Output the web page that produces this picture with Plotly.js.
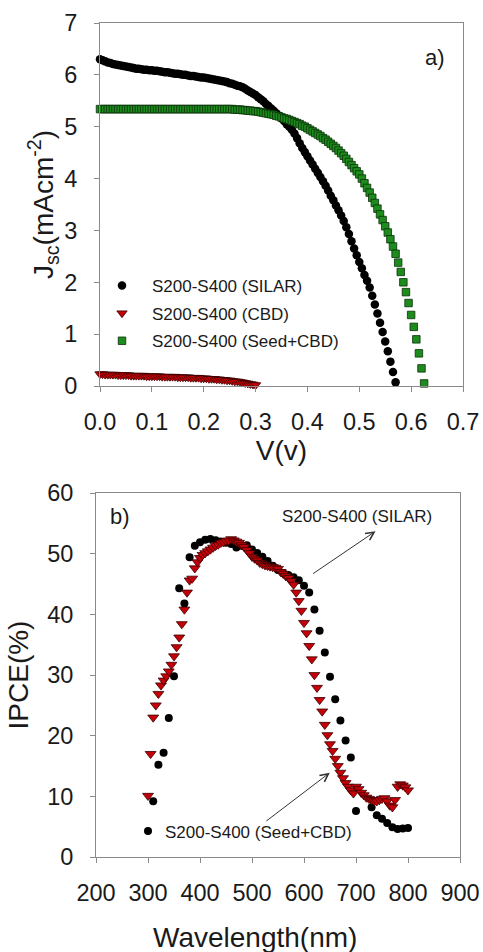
<!DOCTYPE html>
<html><head><meta charset="utf-8">
<script src="https://cdn.plot.ly/plotly-3.0.1.min.js"></script>
<style>html,body{margin:0;padding:0;background:#fff}#chart{width:483px;height:952px}</style>
</head><body><div id="chart"></div>
<script>
// ---------- Panel a) J-V data ----------
var voltage = [0,0.005,0.01,0.015,0.02,0.025,0.03,0.035,0.04,0.045,
0.05,0.055,0.06,0.065,0.07,0.075,0.08,0.085,0.09,0.095,
0.1,0.105,0.11,0.115,0.12,0.125,0.13,0.135,0.14,0.145,
0.15,0.155,0.16,0.165,0.17,0.175,0.18,0.185,0.19,0.195,
0.2,0.205,0.21,0.215,0.22,0.225,0.23,0.235,0.24,0.245,
0.25,0.255,0.26,0.265,0.27,0.275,0.28,0.285,0.29,0.295,
0.3,0.305,0.31,0.315,0.32,0.325,0.33,0.335,0.34,0.345,
0.35,0.355,0.36,0.365,0.37,0.375,0.38,0.385,0.39,0.395,
0.4,0.405,0.41,0.415,0.42,0.425,0.43,0.435,0.44,0.445,
0.45,0.455,0.46,0.465,0.47,0.475,0.48,0.485,0.49,0.495,
0.5,0.505,0.51,0.515,0.52,0.525,0.53,0.535,0.54,0.545,
0.55,0.555,0.56,0.565,0.57,0.575,0.58,0.585,0.59,0.595,
0.6,0.605,0.61,0.615,0.62,0.625];

var jscSilar = [6.30,6.28,6.26,6.24,6.23,6.21,6.20,6.19,6.18,6.17,
6.16,6.15,6.14,6.13,6.12,6.12,6.11,6.10,6.10,6.09,
6.09,6.08,6.08,6.07,6.06,6.05,6.05,6.04,6.03,6.02,
6.02,6.01,6.00,6.00,5.99,5.98,5.98,5.97,5.96,5.95,
5.95,5.94,5.93,5.92,5.91,5.90,5.89,5.88,5.87,5.86,
5.84,5.83,5.81,5.79,5.78,5.76,5.73,5.70,5.67,5.64,
5.61,5.57,5.53,5.49,5.44,5.40,5.35,5.31,5.26,5.21,
5.16,5.11,5.05,5.00,4.94,4.87,4.78,4.68,4.59,4.51,
4.43,4.35,4.27,4.19,4.11,4.03,3.95,3.86,3.77,3.67,
3.58,3.48,3.39,3.29,3.18,3.06,2.93,2.79,2.65,2.52,
2.39,2.27,2.14,2.03,1.90,1.74,1.57,1.40,1.22,1.04,
0.86,0.67,0.47,0.27,0.07];

var jscCbd = [0.23,0.23,0.22,0.22,0.22,0.22,0.22,0.21,0.21,0.21,
0.21,0.21,0.20,0.20,0.20,0.20,0.20,0.20,0.19,0.19,
0.19,0.19,0.19,0.19,0.18,0.18,0.18,0.18,0.18,0.18,
0.17,0.17,0.17,0.17,0.17,0.16,0.16,0.16,0.16,0.15,
0.15,0.15,0.14,0.14,0.14,0.13,0.13,0.12,0.12,0.11,
0.11,0.10,0.09,0.09,0.08,0.07,0.06,0.05,0.04,0.03,
0.02];

var jscSeedCbd = [5.34,5.34,5.34,5.34,5.34,5.34,5.34,5.34,5.34,5.34,
5.34,5.34,5.34,5.34,5.34,5.34,5.34,5.34,5.34,5.34,
5.34,5.34,5.34,5.34,5.34,5.34,5.34,5.34,5.34,5.34,
5.34,5.34,5.34,5.34,5.34,5.34,5.34,5.34,5.34,5.34,
5.34,5.34,5.34,5.34,5.34,5.34,5.34,5.34,5.34,5.34,
5.34,5.34,5.33,5.33,5.33,5.32,5.32,5.31,5.31,5.30,
5.30,5.29,5.28,5.27,5.26,5.25,5.24,5.23,5.21,5.20,
5.18,5.16,5.15,5.13,5.11,5.09,5.07,5.05,5.02,5.00,
4.97,4.94,4.91,4.88,4.85,4.82,4.78,4.75,4.71,4.67,
4.63,4.59,4.54,4.49,4.44,4.38,4.32,4.26,4.20,4.14,
4.08,4.00,3.91,3.82,3.73,3.63,3.53,3.42,3.31,3.20,
3.08,2.96,2.83,2.69,2.55,2.38,2.20,2.00,1.81,1.60,
1.37,1.14,0.90,0.63,0.34,0.05];

var seriesNames = ["S200-S400 (SILAR)", "S200-S400 (CBD)", "S200-S400 (Seed+CBD)"];

// ---------- Panel b) IPCE data ----------
var wlSilar = [300,310,320,330,340,350,360,370,380,390,
400,410,420,430,440,450,460,470,480,490,
500,510,520,530,540,550,560,570,580,590,
600,610,620,630,640,650,660,670,680,690,
700,730,740,750,760,770,780,790,800];
var ipceSilar = [4.3,9.2,15.2,17.2,22.9,29.8,44.3,41.8,49.4,51.3,
51.9,52.3,52.4,52.2,52.0,51.8,51.6,51.0,51.3,51.4,
50.7,50.1,49.5,48.8,48.0,47.3,46.8,46.5,46.1,45.6,
44.7,43.6,40.8,37.3,33.7,29.7,26.0,22.5,19.2,16.4,
7.6,8.2,6.9,6.3,5.6,4.9,4.6,4.7,4.8];

var wlSeedCbd = [300,305,310,315,320,325,330,335,340,345,
350,355,360,365,370,375,380,385,390,395,
400,405,410,415,420,425,430,435,440,445,
450,455,460,465,470,475,480,485,490,495,
500,505,510,515,520,525,530,535,540,545,
550,555,560,565,570,575,580,585,590,595,
600,605,610,615,620,625,630,635,640,645,
650,655,660,665,670,675,680,685,690,695,
700,705,710,715,720,725,730,735,740,745,
750,755,760,765,770,775,780,785,790,795,
800];
var ipceSeedCbd = [10.1,17.0,23.0,25.0,26.9,28.3,29.1,29.8,30.6,31.7,
33.1,34.6,36.2,38.4,40.8,43.6,45.6,45.9,47.6,48.6,
49.3,49.8,50.1,50.4,50.7,51.0,51.3,51.5,51.8,51.9,
52.1,52.2,52.4,52.2,52.0,51.8,51.4,51.1,50.6,50.1,
49.5,49.2,48.9,48.5,48.3,48.1,48.0,47.9,47.8,47.7,
47.5,47.0,46.7,46.3,46.0,45.5,44.9,43.6,42.2,40.6,
38.6,36.9,34.8,32.6,30.0,27.9,25.9,24.0,21.8,20.1,
18.6,17.5,16.2,15.0,13.9,13.0,12.2,11.6,11.0,10.5,
11.6,11.2,10.6,10.2,9.8,9.6,9.4,9.2,9.2,9.4,
9.6,9.7,9.2,8.5,8.2,9.4,11.6,12.0,11.8,11.5,
11.0];

var W = 483, H = 952;
var FONT = "Liberation Sans, Arial, sans-serif";
var TXT = "#1a1a1a";
var AX = "#8a8a8a";

var traces = [
  {x: voltage.slice(0, jscSilar.length), y: jscSilar, name: seriesNames[0], type: "scatter", mode: "markers",
   xaxis: "x", yaxis: "y", cliponaxis: false, legendgroup: "g1",
   marker: {symbol: "circle", size: 8.5, color: "#000000"}},
  {x: voltage.slice(0, jscCbd.length), y: jscCbd, name: seriesNames[1], type: "scatter", mode: "markers",
   xaxis: "x", yaxis: "y", cliponaxis: false, legendgroup: "g2",
   marker: {symbol: "triangle-down", size: 9, color: "#c40008", line: {color: "#3a0000", width: 0.8}}},
  {x: voltage.slice(0, jscSeedCbd.length), y: jscSeedCbd, name: seriesNames[2], type: "scatter", mode: "markers",
   xaxis: "x", yaxis: "y", cliponaxis: false, legendgroup: "g3",
   marker: {symbol: "square", size: 7.5, color: "#1d8c1d", line: {color: "#0a300a", width: 0.8}}},
  {x: wlSilar, y: ipceSilar, name: seriesNames[0], type: "scatter", mode: "markers",
   xaxis: "x2", yaxis: "y2", showlegend: false, cliponaxis: false,
   marker: {symbol: "circle", size: 8, color: "#000000"}},
  {x: wlSeedCbd, y: ipceSeedCbd, name: seriesNames[2], type: "scatter", mode: "markers",
   xaxis: "x2", yaxis: "y2", showlegend: false, cliponaxis: false,
   marker: {symbol: "triangle-down", size: 9.5, color: "#c40008", line: {color: "#3a0000", width: 0.8}}}
];

function axisBase() {
  return {showline: true, mirror: true, linecolor: AX, linewidth: 1,
    ticks: "outside", ticklen: 5, tickwidth: 1, tickcolor: AX,
    showgrid: false, zeroline: false, fixedrange: true,
    tickfont: {family: FONT, size: 23.5, color: TXT}};
}

var xa = Object.assign(axisBase(), {domain: [100/W, 463/W], range: [0, 0.7], tick0: 0, dtick: 0.1,
  tickformat: ".1f", anchor: "y", ticklabelstandoff: 10,
  title: {text: "V(v)", font: {family: FONT, size: 28, color: TXT}, standoff: 6}});
var ya = Object.assign(axisBase(), {domain: [(H-386)/H, (H-23)/H], range: [0, 7], tick0: 0, dtick: 1,
  anchor: "x", ticklabelstandoff: 12,
  title: {text: "J<sub>sc</sub>(mAcm<sup>-2</sup>)", font: {family: FONT, size: 28, color: TXT}, standoff: 2}});
var xa2 = Object.assign(axisBase(), {domain: [96/W, 460/W], range: [200, 900], tick0: 200, dtick: 100,
  anchor: "y2", ticklabelstandoff: 10});
var ya2 = Object.assign(axisBase(), {domain: [(H-857)/H, (H-493)/H], range: [0, 60], tick0: 0, dtick: 10,
  anchor: "x2", ticklabelstandoff: 12,
  title: {text: "IPCE(%)", font: {family: FONT, size: 28, color: TXT}, standoff: 10}});

var annFont = {family: FONT, size: 17, color: TXT};
var arrowFont = {family: FONT, size: 4, color: "rgba(0,0,0,0)"};
var layout = {
  width: W, height: H,
  margin: {l: 0, r: 0, t: 0, b: 0},
  paper_bgcolor: "#ffffff", plot_bgcolor: "#ffffff",
  font: {family: FONT, color: TXT},
  xaxis: xa, yaxis: ya, xaxis2: xa2, yaxis2: ya2,
  showlegend: true,
  legend: {x: 92/W, xanchor: "left", y: (H-268)/H, yanchor: "top",
    font: {family: FONT, size: 17, color: TXT}, bgcolor: "rgba(0,0,0,0)",
    itemwidth: 50, tracegroupgap: 2.5},
  annotations: [
    {xref: "x", yref: "y", x: 0.646, y: 6.34, text: "a)", showarrow: false,
     font: {family: FONT, size: 22, color: TXT}},
    {xref: "x2", yref: "y2", x: 246, y: 56.2, text: "b)", showarrow: false,
     font: {family: FONT, size: 22, color: TXT}},
    {xref: "x2", yref: "y2", x: 701, y: 56.2, text: seriesNames[0], showarrow: false, font: annFont},
    {xref: "x2", yref: "y2", x: 737.6, y: 53.7, axref: "x2", ayref: "y2", ax: 615.6, ay: 46.6,
     text: ".", font: arrowFont, borderpad: 0,
     showarrow: true, arrowhead: 5, arrowsize: 1.6, arrowwidth: 1, arrowcolor: "#333333", standoff: 0},
    {xref: "x2", yref: "y2", x: 513, y: 3.96, text: seriesNames[2], showarrow: false, font: annFont},
    {xref: "x2", yref: "y2", x: 649.6, y: 13.9, axref: "x2", ayref: "y2", ax: 525.6, ay: 5.8,
     text: ".", font: arrowFont, borderpad: 0,
     showarrow: true, arrowhead: 5, arrowsize: 1.6, arrowwidth: 1, arrowcolor: "#333333", standoff: 0},
    {xref: "paper", yref: "paper", x: 255/W, y: (H-937)/H, xanchor: "center", yanchor: "middle",
     text: "Wavelength(nm)", showarrow: false, font: {family: FONT, size: 28, color: TXT}}
  ]
};

Plotly.newPlot("chart", traces, layout, {staticPlot: true, displayModeBar: false});
</script></body></html>
